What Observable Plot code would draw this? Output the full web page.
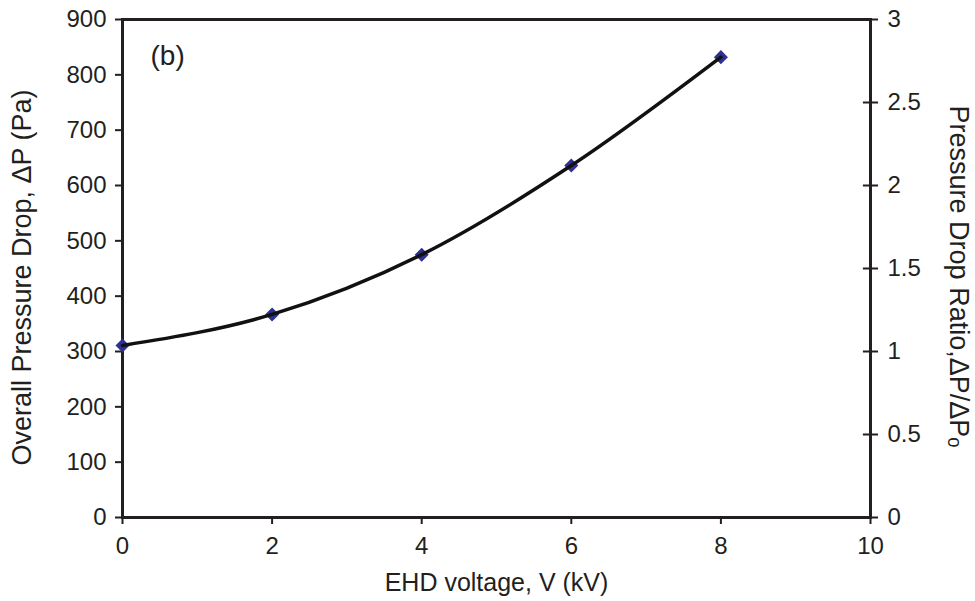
<!DOCTYPE html>
<html>
<head>
<meta charset="utf-8">
<script src="https://cdn.jsdelivr.net/npm/d3@7"></script>
<script src="https://cdn.jsdelivr.net/npm/@observablehq/plot@0.6"></script>
<style>
  html, body { margin: 0; padding: 0; background: #fff; }
  #chart { width: 975px; height: 601px; }
</style>
</head>
<body>
<div id="chart"></div>
<script>
// Data
const voltage = [0, 2, 4, 6, 8];                 // EHD voltage (kV)
const pressureDrop = [311, 367, 475, 636, 832];  // Overall pressure drop (Pa)
const baseDrop = 300;                            // ΔP0 used for the ratio axis
const xTicks = [0, 2, 4, 6, 8, 10];
const leftTicks = [0, 100, 200, 300, 400, 500, 600, 700, 800, 900];
const ratioTicks = [0, 0.5, 1, 1.5, 2, 2.5, 3];

const data = voltage.map((v, i) => ({v, p: pressureDrop[i]}));
const ratioRows = ratioTicks.map(r => ({r, p: r * baseDrop}));

const ink = "#231f20";
const chart = Plot.plot({
  width: 975,
  height: 601,
  marginLeft: 122,
  marginRight: 105,
  marginTop: 19,
  marginBottom: 84,
  style: {fontFamily: "Liberation Sans, Arial, sans-serif", fontSize: "24px", color: ink, background: "#fff"},
  x: {domain: [0, 10]},
  y: {domain: [0, 900]},
  marks: [
    Plot.axisX({ticks: xTicks, tickSize: 7, tickPadding: 12, strokeWidth: 2, label: null, fontSize: 24}),
    Plot.axisY({anchor: "left", ticks: leftTicks, tickSize: 7, tickPadding: 9, strokeWidth: 2, label: null, fontSize: 24}),
    Plot.axisY({anchor: "right", ticks: ratioRows.map(d => d.p), tickFormat: d => String(d / baseDrop), tickSize: 7, tickPadding: 10, strokeWidth: 2, label: null, fontSize: 24}),
    Plot.ruleY(ratioRows, {y: "p", x1: 9.905, x2: 10, stroke: ink, strokeWidth: 2}),
    Plot.frame({stroke: ink, strokeWidth: 3}),
    Plot.dot(data, {x: "v", y: "p", symbol: "square", rotate: 45, r: 5.6, fill: "#2e3192", stroke: "none"}),
    Plot.line(data, {x: "v", y: "p", curve: "monotone-x", stroke: "#111", strokeWidth: 3.5}),
    Plot.text(["(b)"], {frameAnchor: "top-left", dx: 28, dy: 37, textAnchor: "start", lineAnchor: "middle", fontSize: 28, fill: ink}),
    Plot.text(["Overall Pressure Drop, ΔP (Pa)"], {frameAnchor: "left", dx: -100, dy: 9, rotate: -90, textAnchor: "middle", lineAnchor: "middle", fontSize: 27, fill: ink}),
    Plot.text(["Pressure Drop Ratio,ΔP/ΔPₒ"], {frameAnchor: "right", dx: 88, dy: 8, rotate: 90, textAnchor: "middle", lineAnchor: "middle", fontSize: 27, fill: ink}),
    Plot.text(["EHD voltage, V (kV)"], {frameAnchor: "bottom", dy: 65, textAnchor: "middle", lineAnchor: "middle", fontSize: 25, fill: ink})
  ]
});
document.getElementById("chart").append(chart);
</script>
</body>
</html>
